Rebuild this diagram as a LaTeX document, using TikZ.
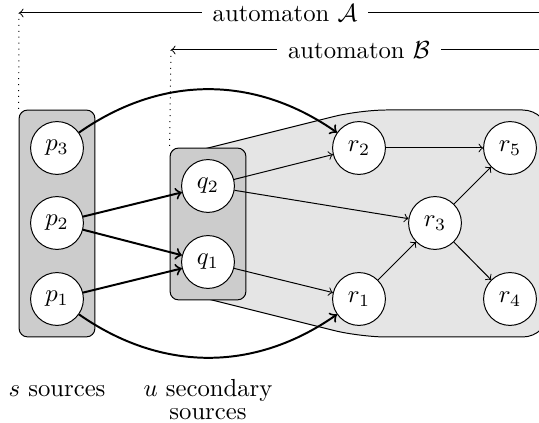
\documentclass[tikz,border=0pt]{standalone}
\usetikzlibrary{fit,backgrounds,calc}
\begin{document}
\begin{tikzpicture}[x=0.405pt,y=-0.405pt,
  state/.style={circle,draw,fill=white,minimum size=21.4pt,inner sep=0pt},
  grp/.style={draw,fill=gray!40,rounded corners=3.4pt,inner sep=4.45pt},
  region/.style={draw,fill=gray!20,rounded corners=10.7pt},
  thickarrow/.style={->,thick},
  thinarrow/.style={->},
  lab/.style={fill=white,inner xsep=4.4pt,inner ysep=1pt},
  ]
\useasboundingbox (0,0) rectangle (539,423);
% states
\node[state] (p3) at (57,148) {$p_3$};
\node[state] (p2) at (57,223) {$p_2$};
\node[state] (p1) at (57,299) {$p_1$};
\node[state] (q2) at (208,186) {$q_2$};
\node[state] (q1) at (208,262) {$q_1$};
\node[state] (r2) at (359,148) {$r_2$};
\node[state] (r5) at (510,148) {$r_5$};
\node[state] (r3) at (435,223) {$r_3$};
\node[state] (r1) at (359,299) {$r_1$};
\node[state] (r4) at (510,299) {$r_4$};
% background groups
\begin{scope}[on background layer]
  \draw[region] (175,156.25) -- (360,110) -- (549,110) -- (549,337) -- (360,337) -- (175,290.75) -- cycle;
  \node[grp, fit=(p1)(p3)] (pbox) {};
  \node[grp, fit=(q1)(q2)] (qbox) {};
\end{scope}
% automaton labels
\coordinate (A0) at (19,13);
\coordinate (A1) at (551,13);
\coordinate (B0) at (171,50);
\coordinate (B1) at (547,50);
\draw[<-] (A0) -- (A1) node[lab,pos=0.5] (la) {automaton $\mathcal{A}$};
\draw[<-] (B0) -- (B1) node[lab,pos=0.5] (lb) {automaton $\mathcal{B}$};
\draw[dotted] (A0) -- (pbox.north west);
\draw[dotted] (B0) -- (qbox.north west);
% thick edges
\draw[thickarrow] (p2) -- (q2);
\draw[thickarrow] (p2) -- (q1);
\draw[thickarrow] (p1) -- (q1);
\draw[thickarrow] (p3) to[bend left=35] (r2);
\draw[thickarrow] (p1) to[bend right=35] (r1);
% thin edges
\draw[thinarrow] (q2) -- (r2);
\draw[thinarrow] (q2) -- (r3);
\draw[thinarrow] (q1) -- (r1);
\draw[thinarrow] (r2) -- (r5);
\draw[thinarrow] (r1) -- (r3);
\draw[thinarrow] (r3) -- (r5);
\draw[thinarrow] (r3) -- (r4);
% bottom labels
\node[anchor=base] (ls) at (57,397) {$s$ sources};
\node[anchor=base,align=center] (lu) at (208,420) {$u$ secondary\\[-2.6pt]sources};
\end{tikzpicture}
\end{document}
